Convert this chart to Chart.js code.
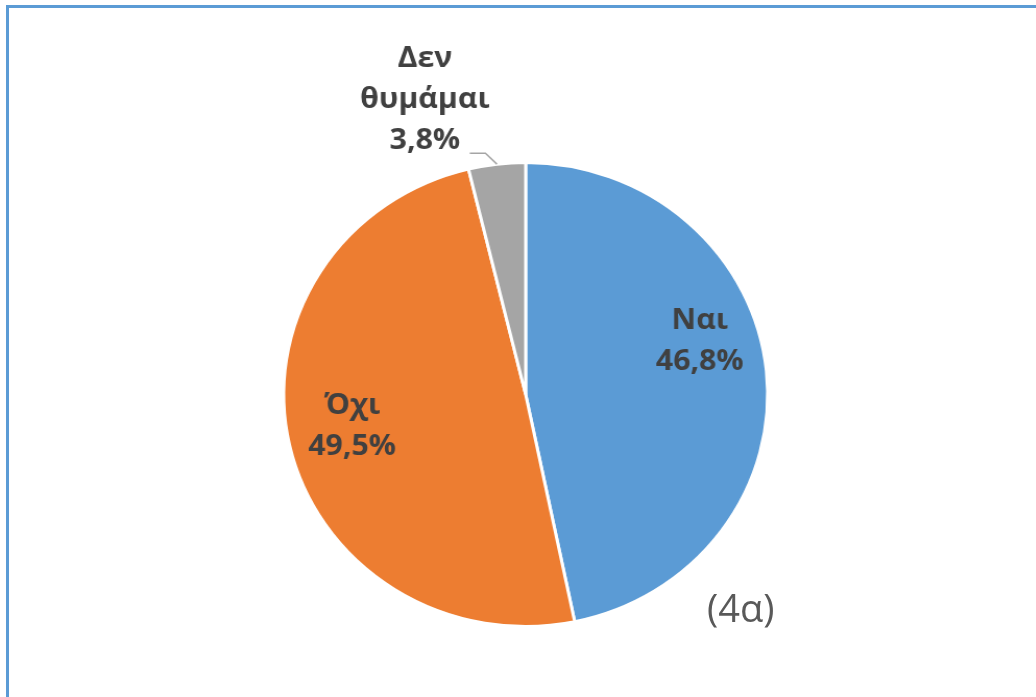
<!DOCTYPE html>
<html lang="el">

<head>
    <meta charset="UTF-8">
    <title>(4α)</title>
    <script src="https://cdn.jsdelivr.net/npm/chart.js"></script>
    <style>
        html,
        body {
            margin: 0;
            padding: 0;
            background: #ffffff;
            width: 1036px;
            height: 697px;
            overflow: hidden;
        }

        .frame {
            position: absolute;
            left: 6px;
            top: 5px;
            right: 0;
            bottom: 0;
            border-left: 3px solid #5b9bd5;
            border-top: 3px solid #5b9bd5;
        }

        /* the original picture is a little wider than it is tall */
        .wrap {
            position: absolute;
            left: 0;
            top: 0;
            width: 993px;
            height: 697px;
            transform: scaleX(1.043);
            transform-origin: 0 0;
        }

        .note {
            position: absolute;
            left: 707px;
            top: 581px;
            font-family: "Open Sans", sans-serif;
            font-size: 38px;
            color: #595959;
        }
    </style>
</head>

<body>
    <div class="frame"></div>
    <div class="wrap">
        <canvas id="pie" width="993" height="697"></canvas>
    </div>
    <div class="note">(4α)</div>

    <script>
        const categories = ["Ναι", "Όχι", "Δεν θυμάμαι"];
        const values = [46.8, 49.5, 3.8];
        const valueLabels = ["46,8%", "49,5%", "3,8%"];
        const labelLines = [["Ναι"], ["Όχι"], ["Δεν", "θυμάμαι"]];
        const colors = ["#5b9bd5", "#ed7d31", "#a5a5a5"];

        // label placement: inside slices for the big ones, outside with a leader line for the small one
        const labelPlace = [
            { inside: true, angleShift: -11.8, radius: 0.755 },
            { inside: true, angleShift: 2, radius: 0.73 },
            { inside: false }
        ];

        const labelPlugin = {
            id: "pieLabels",
            afterDatasetsDraw(chart) {
                const ctx = chart.ctx;
                const arcs = chart.getDatasetMeta(0).data;
                ctx.save();
                ctx.font = "bold 29px 'Open Sans', sans-serif";
                ctx.fillStyle = "#404040";
                ctx.textAlign = "center";
                ctx.textBaseline = "middle";
                const lineH = 41;

                arcs.forEach((arc, i) => {
                    const p = arc.getProps(["x", "y", "startAngle", "endAngle", "outerRadius"], true);
                    const mid = (p.startAngle + p.endAngle) / 2;
                    const lines = labelLines[i].concat([valueLabels[i]]);
                    const place = labelPlace[i];
                    let cx, cy;
                    if (place.inside) {
                        const a = mid + place.angleShift * Math.PI / 180;
                        cx = p.x + Math.cos(a) * p.outerRadius * place.radius;
                        cy = p.y + Math.sin(a) * p.outerRadius * place.radius;
                    } else {
                        const ex = p.x + Math.cos(mid) * p.outerRadius;
                        const ey = p.y + Math.sin(mid) * p.outerRadius;
                        const bx = ex - 11;
                        const by = ey - 11;
                        ctx.strokeStyle = "#a5a5a5";
                        ctx.lineWidth = 1.5;
                        ctx.beginPath();
                        ctx.moveTo(ex, ey);
                        ctx.lineTo(bx, by);
                        ctx.lineTo(bx - 15, by);
                        ctx.stroke();
                        cx = ex - 69;
                        cy = ey - 64;
                    }
                    const top = cy - (lines.length - 1) * lineH / 2;
                    lines.forEach((t, k) => ctx.fillText(t, cx, top + k * lineH));
                });
                ctx.restore();
            }
        };

        new Chart(document.getElementById("pie"), {
            type: "pie",
            data: {
                labels: categories,
                datasets: [{
                    data: values,
                    backgroundColor: colors,
                    borderColor: "#ffffff",
                    borderWidth: 3
                }]
            },
            options: {
                responsive: false,
                animation: false,
                layout: {
                    padding: { top: 161, bottom: 69, left: 15, right: 0 }
                },
                plugins: {
                    legend: { display: false },
                    tooltip: { enabled: false }
                }
            },
            plugins: [labelPlugin]
        });
    </script>
</body>

</html>
